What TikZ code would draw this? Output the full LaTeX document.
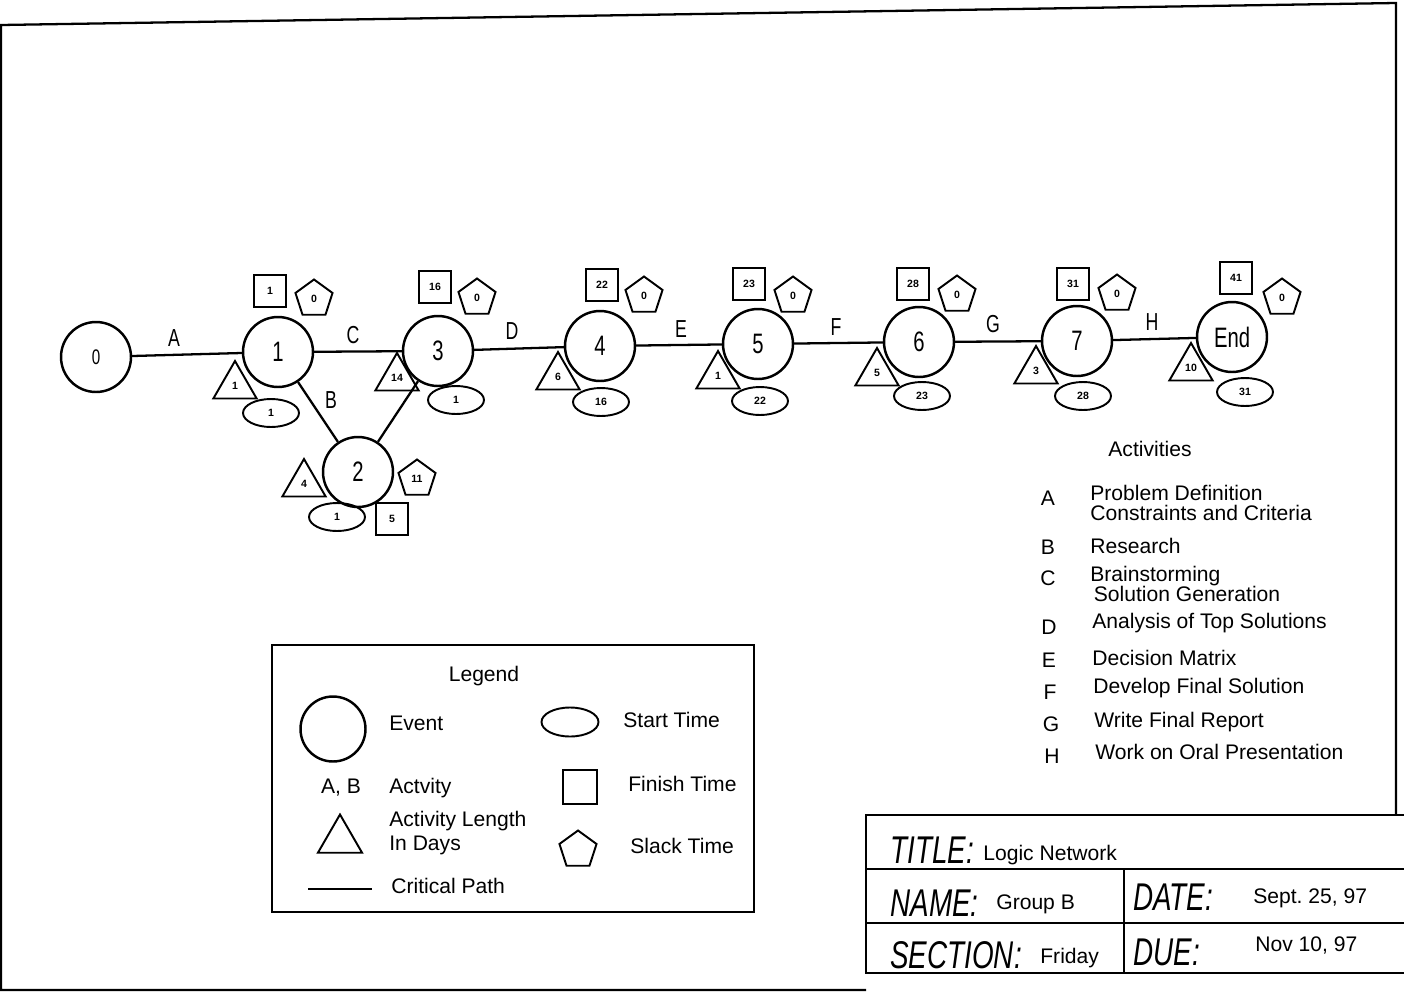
\documentclass[tikz,border=0pt]{standalone}
\usepackage{fontspec}
\setmainfont{Liberation Sans}
\newfontfamily\isofont[FakeStretch=0.72]{Liberation Sans}
\usetikzlibrary{shapes.geometric}
\newcommand{\numfont}{\fontsize{6}{6}\selectfont\bfseries}
\tikzset{
  frame/.style={line width=1.3pt},
  crit/.style={line width=1.3pt},
  event/.style={circle,draw,line width=1.4pt,minimum size=1.4cm,inner sep=0pt,
    font=\isofont\fontsize{16}{16}\selectfont},
  finishtime/.style={draw,line width=1.1pt,minimum size=0.64cm,inner sep=0pt,font=\numfont},
  slacktime/.style={regular polygon,regular polygon sides=5,draw,line width=1.1pt,
    minimum size=0.78cm,inner sep=0pt,font=\numfont},
  daytri/.style={regular polygon,regular polygon sides=3,draw,line width=1.1pt,
    minimum size=1cm,inner sep=0pt,font=\numfont},
  starttime/.style={ellipse,draw,line width=1.1pt,minimum width=1.12cm,
    minimum height=0.56cm,inner sep=0pt,font=\numfont},
  actname/.style={font=\isofont\fontsize{14}{14}\selectfont},
  txt/.style={anchor=west,inner sep=0pt,align=left,font=\fontsize{12}{13}\selectfont},
  tight/.style={font=\fontsize{12}{11.5}\selectfont},
  letter/.style={inner sep=0pt,font=\fontsize{12}{12}\selectfont},
  blklabel/.style={anchor=west,inner sep=0pt,font=\isofont\itshape\fontsize{22}{22}\selectfont},
  blkval/.style={anchor=west,inner sep=0pt,font=\fontsize{12}{12}\selectfont},
}

\begin{document}
\begin{tikzpicture}[x=0.02cm,y=-0.02cm]
  \useasboundingbox (0,0) rectangle (1404,994);
  % sheet frame
  \draw[frame] (866,990) -- (1,990) -- (1,25) -- (1396,3) -- (1396,815);

  % events
  \node[event,font=\isofont\fontsize{12}{12}\selectfont] (e0) at (96,357) {0};
  \node[event] (e1) at (278,352) {1};
  \node[event] (e2) at (358,472) {2};
  \node[event] (e3) at (438,351) {3};
  \node[event] (e4) at (600,346) {4};
  \node[event] (e5) at (758,344) {5};
  \node[event] (e6) at (919,342) {6};
  \node[event] (e7) at (1077,341) {7};
  \node[event] (eend) at (1232,337) {End};
  \draw[crit] (e0) -- (e1); \draw[crit] (e1) -- (e3); \draw[crit] (e1) -- (e2); \draw[crit] (e2) -- (e3);
  \draw[crit] (e3) -- (e4); \draw[crit] (e4) -- (e5); \draw[crit] (e5) -- (e6);
  \draw[crit] (e6) -- (e7); \draw[crit] (e7) -- (eend);
  \node[actname] (la) at (174,338) {A}; \node[actname] (lb) at (331,400) {B};
  \node[actname] (lc) at (353,335) {C}; \node[actname] (ld) at (512,331) {D};
  \node[actname] (le) at (681,329) {E}; \node[actname] (lf) at (836,327) {F};
  \node[actname] (lg) at (993,324) {G}; \node[actname] (lh) at (1152,322) {H};

  % times, lengths and slack
  \node[finishtime] (f1) at (270,291) {1}; \node[slacktime] (k1) at (314,299) {0};
  \node[daytri] (d1) at (235,386) {1}; \node[starttime] (s1) at (271,413) {1};
  \node[finishtime] (f3) at (435,287) {16}; \node[slacktime] (k3) at (477,298) {0};
  \node[daytri] (d3) at (397,378) {14}; \node[starttime] (s3) at (456,400) {1};
  \node[daytri] (d2) at (304,484) {4}; \node[slacktime] (k2) at (417,479) {11};
  \node[starttime] (s2) at (337,517) {1}; \node[finishtime] (f2) at (392,519) {5};
  \node[finishtime] (f4) at (602,285) {22}; \node[slacktime] (k4) at (644,296) {0};
  \node[daytri] (d4) at (558,377) {6}; \node[starttime] (s4) at (601,402) {16};
  \node[finishtime] (f5) at (749,284) {23}; \node[slacktime] (k5) at (793,296) {0};
  \node[daytri] (d5) at (718,376) {1}; \node[starttime] (s5) at (760,401) {22};
  \node[finishtime] (f6) at (913,284) {28}; \node[slacktime] (k6) at (957,295) {0};
  \node[daytri] (d6) at (877,373) {5}; \node[starttime] (s6) at (922,396) {23};
  \node[finishtime] (f7) at (1073,284) {31}; \node[slacktime] (k7) at (1117,294) {0};
  \node[daytri] (d7) at (1036,371) {3}; \node[starttime] (s7) at (1083,396) {28};
  \node[finishtime] (fend) at (1236,278) {41}; \node[slacktime] (kend) at (1282,298) {0};
  \node[daytri] (dend) at (1191,368) {10}; \node[starttime] (send) at (1245,392) {31};

  % activities
  \node[letter] (acts) at (1150,449) {Activities};
  \node[letter] (ka) at (1048,498) {A}; \node[txt,tight] (ta) at (1090,503) {Problem Definition\\Constraints and Criteria};
  \node[letter] (kb) at (1048,547) {B}; \node[txt] (tb) at (1090,546) {Research};
  \node[letter] (kc) at (1048,578) {C}; \node[txt,tight] (tc) at (1090,584) {Brainstorming\\\,Solution Generation};
  \node[letter] (kd) at (1049,627) {D}; \node[txt] (td) at (1092,623) {Analysis of Top Solutions};
  \node[letter] (ke) at (1049,660) {E}; \node[txt] (te) at (1092,658) {Decision Matrix};
  \node[letter] (kf) at (1050,692) {F}; \node[txt] (tf) at (1093,688) {Develop Final Solution};
  \node[letter] (kg) at (1051,724) {G}; \node[txt] (tg) at (1094,722) {Write Final Report};
  \node[letter] (kh) at (1052,756) {H}; \node[txt] (th) at (1095,752) {Work on Oral Presentation};

  % legend
  \draw[frame] (272,645) rectangle (754,912);
  \node[letter] (lgd) at (484,676) {Legend};
  \node[event,minimum size=1.3cm] (lgev) at (333,729) {}; \node[txt] (lgevt) at (389,723) {Event};
  \node[starttime,minimum width=1.14cm,minimum height=0.58cm] (lgst) at (570,722) {};
  \node[txt] (lgstt) at (623,720) {Start Time};
  \node[letter] (lgab) at (341,788) {A, B}; \node[txt] (lgabt) at (389,788) {Actvity};
  \node[finishtime,minimum size=0.68cm] (lgft) at (580,787) {}; \node[txt] (lgftt) at (628,784) {Finish Time};
  \node[daytri,minimum size=1.02cm] (lgdl) at (340,840) {};
  \node[txt,font=\fontsize{12}{13.5}\selectfont] (lgdlt) at (389,833) {Activity Length\\In Days};
  \node[slacktime] (lgsl) at (578,850) {}; \node[txt] (lgslt) at (630,846) {Slack Time};
  \coordinate (lgcp1) at (308,889); \coordinate (lgcp2) at (372,889);
  \draw[crit,line width=1pt] (lgcp1) -- (lgcp2); \node[txt] (lgcpt) at (391,886) {Critical Path};

  % title block
  \draw[frame] (1404,815) -- (866,815) -- (866,973) -- (1404,973);
  \draw[frame] (866,869) -- (1404,869) (866,923) -- (1404,923) (1124,869) -- (1124,973);
  \node[blklabel] (bt) at (890,850) {TITLE:}; \node[blkval] (btv) at (983,855) {Logic Network};
  \node[blklabel] (bn) at (890,903) {NAME:}; \node[blkval] (bnv) at (996,904) {Group B};
  \node[blklabel] (bd) at (1133,897) {DATE:}; \node[blkval] (bdv) at (1253,898) {Sept.\ 25, 97};
  \node[blklabel] (bs) at (890,955) {SECTION:}; \node[blkval] (bsv) at (1040,958) {Friday};
  \node[blklabel] (bu) at (1133,952) {DUE:}; \node[blkval] (buv) at (1255,945) {Nov 10, 97};
\end{tikzpicture}
\end{document}
